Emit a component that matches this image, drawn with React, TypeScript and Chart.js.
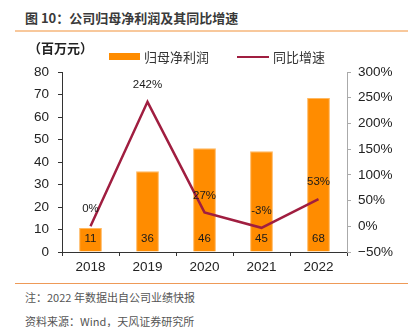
import React, { useEffect, useRef } from "react";
import { Chart, registerables } from "chart.js";

Chart.register(...registerables);

const years = ["2018", "2019", "2020", "2021", "2022"];
const profit = [10.7, 35.9, 46.1, 44.8, 68.4];
const profitLabels = ["11", "36", "46", "45", "68"];
const growth = [0, 242, 27, -3, 53];
const growthLabels = ["0%", "242%", "27%", "-3%", "53%"];

const FONT = "'Liberation Sans', Arial, sans-serif";
const CJK = "'Noto Sans CJK SC', 'Noto Sans', sans-serif";

const labelPlugin = {
  id: "valueLabels",
  afterDatasetsDraw(chart: any) {
    const ctx = chart.ctx;
    const area = chart.chartArea;
    ctx.save();
    ctx.fillStyle = "#1a1a1a";
    ctx.font = `11.5px ${FONT}`;
    ctx.textAlign = "center";
    ctx.textBaseline = "middle";
    const barMeta = chart.getDatasetMeta(0);
    barMeta.data.forEach((el: any, i: number) => {
      ctx.fillText(profitLabels[i], el.x, area.bottom - 13);
    });
    const lineMeta = chart.getDatasetMeta(1);
    lineMeta.data.forEach((el: any, i: number) => {
      ctx.fillText(growthLabels[i], el.x, el.y - 17);
    });
    ctx.restore();
  },
};

export default function App() {
  const ref = useRef<HTMLCanvasElement>(null);
  useEffect(() => {
    if (!ref.current) return;
    const chart = new Chart(ref.current, {
      data: {
        labels: years,
        datasets: [
          {
            type: "bar",
            label: "归母净利润",
            data: profit,
            backgroundColor: "#FF8C00",
            borderColor: "#FFB860",
            borderWidth: 1,
            barPercentage: 0.8,
            categoryPercentage: 0.5,
            yAxisID: "y",
            order: 2,
          },
          {
            type: "line",
            label: "同比增速",
            data: growth,
            borderColor: "#A01E40",
            borderWidth: 2.5,
            pointRadius: 0,
            tension: 0,
            yAxisID: "y1",
            order: 1,
          },
        ],
      } as any,
      options: {
        responsive: false,
        animation: false,
        devicePixelRatio: 1,
        layout: { padding: { top: 32, left: 0, right: 0, bottom: 0 } },
        plugins: {
          legend: { display: false },
          tooltip: { enabled: false },
        },
        scales: {
          x: {
            offset: true,
            grid: {
              offset: true,
              drawOnChartArea: false,
              drawTicks: true,
              tickLength: 4,
              color: "#333",
            },
            border: { display: true, color: "#333", width: 1 },
            ticks: {
              color: "#222",
              font: { family: FONT, size: 13.5 },
              padding: 3,
            },
            afterFit: (s: any) => {
              s.height = 28;
            },
          },
          y: {
            position: "left",
            min: 0,
            max: 80,
            ticks: {
              stepSize: 10,
              color: "#222",
              font: { family: FONT, size: 13.5 },
              padding: 9,
            },
            grid: {
              drawOnChartArea: false,
              drawTicks: true,
              tickLength: 4,
              color: "#333",
            },
            border: { display: true, color: "#333", width: 1 },
            afterFit: (s: any) => {
              s.width = 62;
            },
          },
          y1: {
            position: "right",
            min: -50,
            max: 300,
            ticks: {
              stepSize: 50,
              color: "#222",
              font: { family: FONT, size: 13.5 },
              padding: 7,
              callback: (v: any) =>
                (Number(v) < 0 ? "\u2212" + Math.abs(Number(v)) : String(v)) + "%",
            },
            grid: {
              drawOnChartArea: false,
              drawTicks: true,
              tickLength: 4,
              color: "#aaa",
            },
            border: { display: true, color: "#aaa", width: 1 },
            afterFit: (s: any) => {
              s.width = 67;
            },
          },
        },
      } as any,
      plugins: [labelPlugin],
    });
    return () => chart.destroy();
  }, []);

  const abs = (extra: React.CSSProperties): React.CSSProperties => ({
    position: "absolute",
    whiteSpace: "nowrap",
    ...extra,
  });

  return (
    <div
      style={{
        position: "absolute",
        left: 0,
        top: 0,
        width: 414,
        height: 327,
        background: "#fff",
        overflow: "hidden",
      }}
    >
      <div
        style={abs({
          left: 25,
          top: 10,
          lineHeight: "16px",
          fontSize: 13,
          fontWeight: 700,
          color: "#3a3a3a",
          fontFamily: CJK,
        })}
      >
        图 10：公司归母净利润及其同比增速
      </div>
      <div style={abs({ left: 15, top: 30, width: 393, height: 1.5, background: "#F8C89C" })} />
      <canvas
        ref={ref}
        width={414}
        height={240}
        style={{ position: "absolute", left: 0, top: 40, width: 414, height: 240 }}
      />
      <div
        style={abs({
          left: 28,
          top: 40,
          lineHeight: "16px",
          fontSize: 13,
          fontWeight: 700,
          color: "#222",
          fontFamily: CJK,
        })}
      >
        （百万元）
      </div>
      <div style={abs({ left: 109, top: 53, width: 31, height: 7, background: "#FF8C00" })} />
      <div
        style={abs({
          left: 144,
          top: 49,
          lineHeight: "16px",
          fontSize: 13,
          color: "#333",
          fontFamily: CJK,
        })}
      >
        归母净利润
      </div>
      <div style={abs({ left: 237, top: 55.5, width: 32, height: 2.5, background: "#A01E40" })} />
      <div
        style={abs({
          left: 273,
          top: 49,
          lineHeight: "16px",
          fontSize: 13,
          color: "#333",
          fontFamily: CJK,
        })}
      >
        同比增速
      </div>
      <div style={abs({ left: 15, top: 282.5, width: 393, height: 1.5, background: "#EE9A58" })} />
      <div
        style={abs({
          left: 25,
          top: 290,
          lineHeight: "14px",
          fontSize: 11,
          color: "#555",
          fontFamily: CJK,
        })}
      >
        注：2022 年数据出自公司业绩快报
      </div>
      <div
        style={abs({
          left: 25,
          top: 314,
          lineHeight: "14px",
          fontSize: 11,
          color: "#555",
          fontFamily: CJK,
        })}
      >
        资料来源：Wind，天风证券研究所
      </div>
    </div>
  );
}
